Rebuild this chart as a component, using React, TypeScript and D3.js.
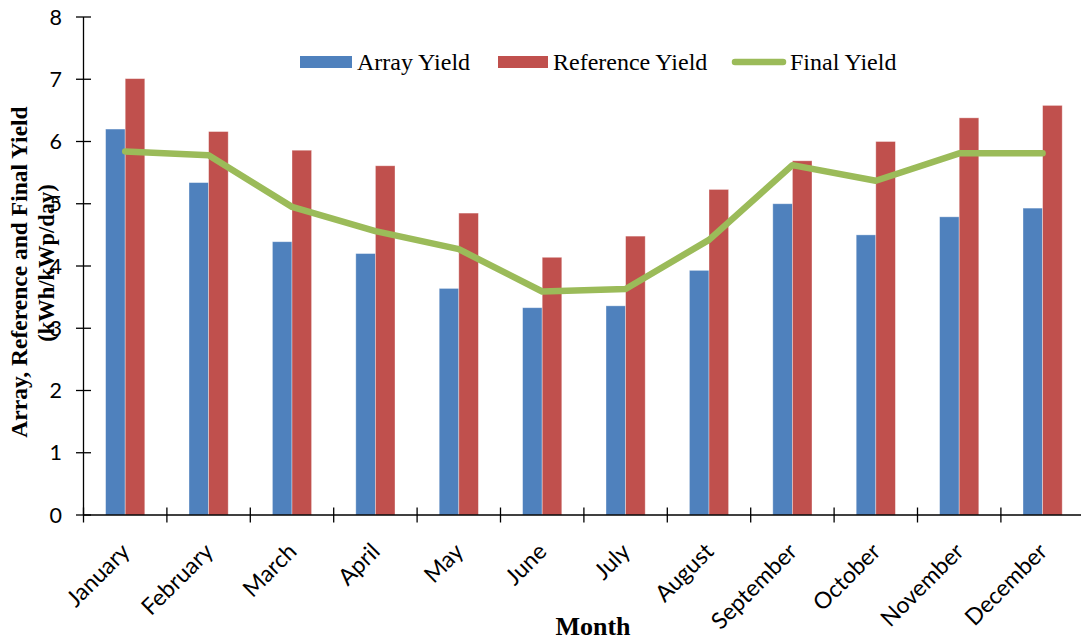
import React from "react";
import * as d3 from "d3";

// Monthly PV yields (kWh/kWp/day)
const months = [
  "January", "February", "March", "April", "May", "June",
  "July", "August", "September", "October", "November", "December",
];
const arrayYield = [6.2, 5.34, 4.39, 4.2, 3.64, 3.33, 3.36, 3.93, 5.0, 4.5, 4.79, 4.93];
const referenceYield = [7.01, 6.16, 5.86, 5.61, 4.85, 4.14, 4.48, 5.23, 5.69, 6.0, 6.38, 6.58];
const finalYield = [5.84, 5.78, 4.95, 4.56, 4.27, 3.59, 3.63, 4.42, 5.62, 5.37, 5.81, 5.81];
const yTicks = [0, 1, 2, 3, 4, 5, 6, 7, 8];

const W = 1081;
const H = 641;
const X0 = 83.5;
const X1 = 1084.3;
const Y0 = 515;
const Y1 = 17;

const BLUE = "#4F81BD";
const RED = "#C0504D";
const GREEN = "#9BBB59";
const SANS = "Lato, 'Open Sans', sans-serif";
const SERIF = "'Liberation Serif', 'Times New Roman', serif";

export default function App() {
  const x = d3.scaleBand<string>().domain(months).range([X0, X1]).paddingInner(0).paddingOuter(0);
  const y = d3.scaleLinear().domain([0, 8]).range([Y0, Y1]);
  const bw = x.bandwidth();
  const barW = bw * 0.235;
  const cx = (m: string) => (x(m) as number) + bw / 2;

  const line = d3
    .line<number>()
    .x((_, i) => cx(months[i]))
    .y((v) => y(v));

  const boundaries = months.map((m) => x(m) as number).concat([X1]);

  return (
    <svg
      width={W}
      height={H}
      style={{ position: "absolute", left: 0, top: 0, background: "#fff" }}
      xmlns="http://www.w3.org/2000/svg"
    >
      <rect x={0} y={0} width={W} height={H} fill="#fff" />

      {/* bars */}
      {months.map((m, i) => (
        <g key={m}>
          <rect
            x={cx(m) - barW}
            y={y(arrayYield[i])}
            width={barW}
            height={Y0 - y(arrayYield[i])}
            fill={BLUE}
            stroke="#fff"
            strokeOpacity={0.45}
            strokeWidth={0.8}
          />
          <rect
            x={cx(m)}
            y={y(referenceYield[i])}
            width={barW}
            height={Y0 - y(referenceYield[i])}
            fill={RED}
            stroke="#fff"
            strokeOpacity={0.45}
            strokeWidth={0.8}
          />
        </g>
      ))}

      {/* final yield line */}
      <path
        d={line(finalYield) || ""}
        fill="none"
        stroke={GREEN}
        strokeWidth={6.5}
        strokeLinejoin="round"
        strokeLinecap="round"
      />

      {/* y axis */}
      <line x1={X0} x2={X0} y1={Y1} y2={Y0} stroke="#000" strokeWidth={1.3} />
      {yTicks.map((t) => (
        <g key={t}>
          <line x1={X0 - 7.5} x2={X0 + 7.5} y1={y(t)} y2={y(t)} stroke="#000" strokeWidth={1.3} />
          <text
            x={62}
            y={y(t)}
            dy="0.36em"
            textAnchor="end"
            fontFamily={SANS}
            fontSize={21.5}
            fill="#000"
          >
            {t}
          </text>
        </g>
      ))}

      {/* x axis */}
      <line x1={X0} x2={W} y1={Y0} y2={Y0} stroke="#000" strokeWidth={1.3} />
      {boundaries.map((b, i) => (
        <line key={i} x1={b} x2={b} y1={Y0 - 7.5} y2={Y0 + 7.5} stroke="#000" strokeWidth={1.3} />
      ))}
      {months.map((m) => (
        <text
          key={m}
          transform={`translate(${cx(m) + 6},${553}) rotate(-45)`}
          textAnchor="end"
          fontFamily={SANS}
          fontSize={23}
          fill="#000"
        >
          {m}
        </text>
      ))}

      {/* axis titles */}
      <text
        transform="translate(27,272) rotate(-90)"
        textAnchor="middle"
        fontFamily={SERIF}
        fontWeight="bold"
        fontSize={23.5}
        fill="#000"
      >
        Array, Reference and Final Yield
      </text>
      <text
        transform="translate(54,263) rotate(-90)"
        textAnchor="middle"
        fontFamily={SERIF}
        fontWeight="bold"
        fontSize={22.5}
        fill="#000"
      >
        (kWh/kWp/day)
      </text>
      <text
        x={593}
        y={635}
        textAnchor="middle"
        fontFamily={SERIF}
        fontWeight="bold"
        fontSize={26}
        fill="#000"
      >
        Month
      </text>

      {/* legend */}
      <g fontFamily={SERIF} fontSize={24} fill="#000">
        <rect x={300} y={56} width={52} height={12} fill={BLUE} />
        <text x={357} y={70}>Array Yield</text>
        <rect x={498} y={56} width={50} height={12} fill={RED} />
        <text x={553} y={70}>Reference Yield</text>
        <line x1={735} x2={783} y1={62} y2={62} stroke={GREEN} strokeWidth={6.5} strokeLinecap="round" />
        <text x={790} y={70}>Final Yield</text>
      </g>
    </svg>
  );
}
